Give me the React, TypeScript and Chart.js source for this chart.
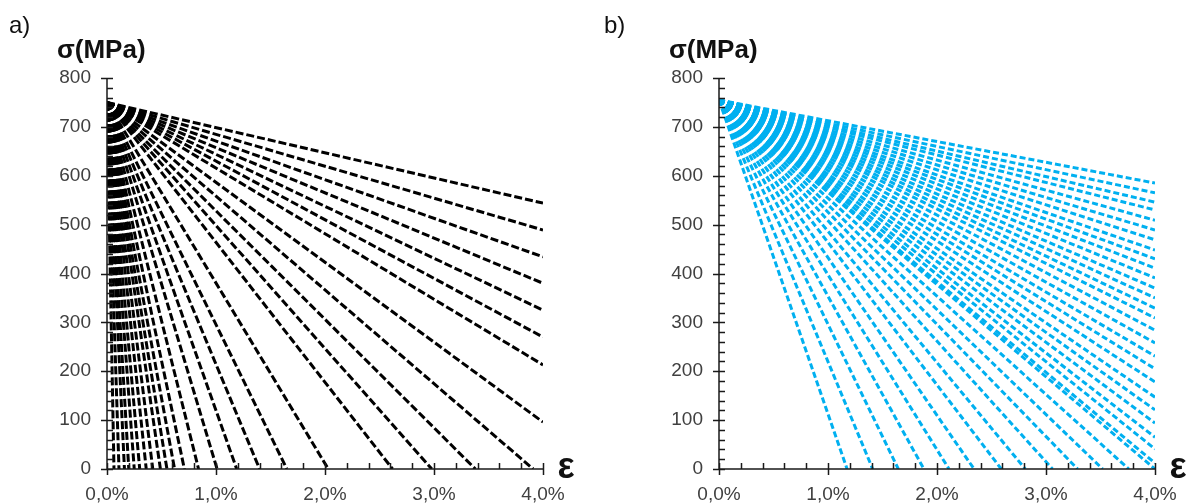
import React, { useEffect, useRef } from "react";
import { Chart, registerables } from "chart.js";

Chart.register(...registerables);

// ---- data ----
const xTickValues = [0, 1, 2, 3, 4];
const xTickLabels = ["0,0%", "1,0%", "2,0%", "3,0%", "4,0%"];
const yTickValues = [0, 100, 200, 300, 400, 500, 600, 700, 800];
const strainMax = 4; // %
const stressMax = 800; // MPa

// panel a) – black fan
const aStartStress = 750;
const aAxisStrains = [0.064, 0.11, 0.16, 0.2, 0.25, 0.3, 0.36, 0.42, 0.49, 0.55, 0.62, 0.71, 0.84, 1.01, 1.19, 1.4, 1.65, 2.03, 2.62, 2.98, 3.38, 3.91];
const aEdgeStresses = [96, 213, 270, 325, 380, 434, 489, 544];

// panel b) – blue fan
const bStartStress = 755;
const bAxisStrains = [1.175, 1.41, 1.645, 1.88, 2.11, 2.34, 2.59, 2.81, 3.06, 3.29, 3.52, 3.76, 4.0];
const bEdgeStresses = [585, 565, 546, 530, 509, 489, 469, 448, 430, 411, 391, 370, 350, 329, 309, 284, 258, 231, 205, 178, 147, 121, 94, 65, 41, 12];

type PanelProps = {
  left: number;
  width: number;
  yAxisWidth: number;
  padRight: number;
  tag: string;
  color: string;
  dash: number[];
  lineWidth: number;
  start: number;
  axisStrains: number[];
  edgeStresses: number[];
};

const HEIGHT = 504;
const TOP = 78;
const XAXIS_H = 35;
const FONT = "'Liberation Sans', Arial, sans-serif";

function Panel(p: PanelProps) {
  const ref = useRef<HTMLCanvasElement | null>(null);

  useEffect(() => {
    if (!ref.current) return;
    const datasets: any[] = [];
    p.axisStrains.forEach((s) => {
      datasets.push({
        data: [
          { x: 0, y: p.start },
          { x: s, y: 0 },
        ],
      });
    });
    p.edgeStresses.forEach((v) => {
      datasets.push({
        data: [
          { x: 0, y: p.start },
          { x: strainMax, y: v },
        ],
      });
    });
    datasets.forEach((d) => {
      d.borderColor = p.color;
      d.borderWidth = p.lineWidth;
      d.borderDash = p.dash;
      d.showLine = true;
      d.pointRadius = 0;
      d.fill = false;
      d.tension = 0;
    });

    const decor = {
      id: "decor",
      afterDatasetsDraw(chart: any) {
        const ctx = chart.ctx;
        const xs = chart.scales.x;
        const ys = chart.scales.y;
        const L = xs.getPixelForValue(0);
        const R = xs.getPixelForValue(strainMax);
        const B = ys.getPixelForValue(0);
        const T = ys.getPixelForValue(stressMax);
        ctx.save();
        ctx.strokeStyle = "#1a1a1a";
        ctx.lineWidth = 1.5;
        ctx.beginPath();
        ctx.moveTo(L, T);
        ctx.lineTo(L, B);
        ctx.moveTo(L, B);
        ctx.lineTo(R, B);
        // y ticks
        for (let v = 0; v <= stressMax + 0.001; v += 20) {
          const y = Math.round(ys.getPixelForValue(v)) + 0.5;
          const major = Math.abs(v % 100) < 0.001;
          ctx.moveTo(major ? L - 6 : L, y);
          ctx.lineTo(L + 6, y);
        }
        // x ticks
        for (let i = 0; i <= 20; i++) {
          const v = i * 0.2;
          const x = Math.round(xs.getPixelForValue(v)) + 0.5;
          const major = i % 5 === 0;
          ctx.moveTo(x, B - 6);
          ctx.lineTo(x, major ? B + 6 : B);
        }
        ctx.stroke();

        ctx.fillStyle = "#111";
        ctx.textBaseline = "alphabetic";
        ctx.textAlign = "left";
        ctx.font = `24px ${FONT}`;
        ctx.fillText(p.tag, 9, 33);
        ctx.font = `bold 26px ${FONT}`;
        ctx.fillText("σ(MPa)", L - 50, 58);
        ctx.textAlign = "center";
        ctx.font = `bold 36px ${FONT}`;
        ctx.fillText("ε", R + 23, B + 9);
        ctx.restore();
      },
    };

    const chart = new Chart(ref.current, {
      type: "scatter",
      data: { datasets },
      options: {
        animation: false,
        responsive: false,
        events: [],
        layout: { padding: { left: 0, top: TOP, right: p.padRight, bottom: 0 } },
        plugins: { legend: { display: false }, tooltip: { enabled: false } },
        scales: {
          x: {
            type: "linear",
            min: 0,
            max: strainMax,
            border: { display: false },
            grid: { display: false, drawTicks: false },
            afterBuildTicks: (s: any) => {
              s.ticks = xTickValues.map((v) => ({ value: v }));
            },
            ticks: {
              padding: 14,
              color: "#404040",
              font: { family: FONT, size: 19 },
              callback: (v: any) => xTickLabels[xTickValues.indexOf(Number(v))] ?? "",
            },
            afterFit: (s: any) => {
              s.height = XAXIS_H;
              s.paddingLeft = 0;
              s.paddingRight = 0;
            },
          },
          y: {
            type: "linear",
            min: 0,
            max: stressMax,
            border: { display: false },
            grid: { display: false, drawTicks: false },
            afterBuildTicks: (s: any) => {
              s.ticks = yTickValues.map((v) => ({ value: v }));
            },
            ticks: {
              padding: 16,
              color: "#404040",
              font: { family: FONT, size: 19 },
              callback: (v: any) => String(v),
            },
            afterFit: (s: any) => {
              s.width = p.yAxisWidth;
              s.paddingTop = 0;
              s.paddingBottom = 0;
            },
          },
        },
      },
      plugins: [decor],
    } as any);
    return () => chart.destroy();
  }, []);

  return (
    <canvas
      ref={ref}
      width={p.width}
      height={HEIGHT}
      style={{ position: "absolute", left: p.left, top: 0, width: p.width, height: HEIGHT }}
    />
  );
}

export default function App() {
  return (
    <div style={{ position: "absolute", left: 0, top: 0, width: 1187, height: HEIGHT, background: "#fff", overflow: "hidden" }}>
      <Panel
        left={0}
        width={595}
        yAxisWidth={107}
        padRight={595 - 543}
        tag="a)"
        color="#000000"
        dash={[8, 3]}
        lineWidth={3}
        start={aStartStress}
        axisStrains={aAxisStrains}
        edgeStresses={aEdgeStresses}
      />
      <Panel
        left={595}
        width={592}
        yAxisWidth={124}
        padRight={592 - 560}
        tag="b)"
        color="#00B0F0"
        dash={[6, 3]}
        lineWidth={3}
        start={bStartStress}
        axisStrains={bAxisStrains}
        edgeStresses={bEdgeStresses}
      />
    </div>
  );
}
